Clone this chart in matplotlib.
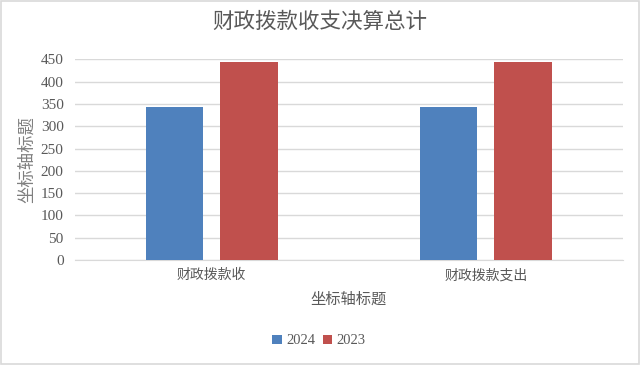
import numpy as np
import matplotlib.pyplot as plt
from matplotlib.patches import Rectangle

plt.rcParams['font.family'] = ['Noto Sans CJK SC', 'DejaVu Sans']

# Data
categories = ['财政拨款收', '财政拨款支出']
series_names = ['2024', '2023']
values_2024 = [344, 344]
values_2023 = [443, 443]
colors = ['#4F81BD', '#C0504D']
y_ticks = [0, 50, 100, 150, 200, 250, 300, 350, 400, 450]

text_grey = '#595959'
serif = ['Liberation Serif', 'DejaVu Serif']

fig = plt.figure(figsize=(6.4, 3.65), dpi=100)
ax = fig.add_axes([74.7 / 640, 105 / 365, 548 / 640, 200.7 / 365])

x = np.arange(len(categories))
w = 0.21
off = 0.136
ax.bar(x - off, values_2024, w, color=colors[0], label=series_names[0], zorder=3)
ax.bar(x + off, values_2023, w, color=colors[1], label=series_names[1], zorder=3)

ax.set_xlim(-0.5, 1.5)
ax.set_ylim(0, 450)
ax.set_yticks(y_ticks)
ax.set_yticklabels([str(t) for t in y_ticks], family=serif, fontsize=11, color=text_grey)
ax.set_xticks(x)
ax.set_xticklabels(categories, fontsize=10, color=text_grey)
ax.tick_params(axis='both', length=0)
ax.tick_params(axis='y', pad=8)
ax.tick_params(axis='x', pad=6)
ax.grid(axis='y', color='#D9D9D9', linewidth=1, zorder=0)
for s in ['top', 'right', 'left']:
    ax.spines[s].set_visible(False)
ax.spines['bottom'].set_color('#D9D9D9')

ax.set_xlabel('坐标轴标题', fontsize=11, color=text_grey, labelpad=6)
fig.text(27 / 640, 1 - 160 / 365, '坐标轴标题', rotation=90, fontsize=12.5,
         color='#7F7F7F', ha='center', va='center')

fig.text(320 / 640, 1 - 22 / 365, '财政拨款收支决算总计', fontsize=15.5,
         color=text_grey, ha='center', va='center')

leg = fig.legend(loc='center', bbox_to_anchor=(319 / 640, 1 - 341 / 365), ncol=2,
                 frameon=False, handlelength=0.65, handleheight=0.65,
                 handletextpad=0.3, columnspacing=0.5,
                 prop={'family': serif, 'size': 10.5})
for t in leg.get_texts():
    t.set_color(text_grey)

# outer border
fig.patches.append(Rectangle((0.001, 0.002), 0.997, 0.996, transform=fig.transFigure,
                             fill=False, edgecolor='#D9D9D9', linewidth=1.2))

fig.savefig('out.png', dpi=100, facecolor='white')
